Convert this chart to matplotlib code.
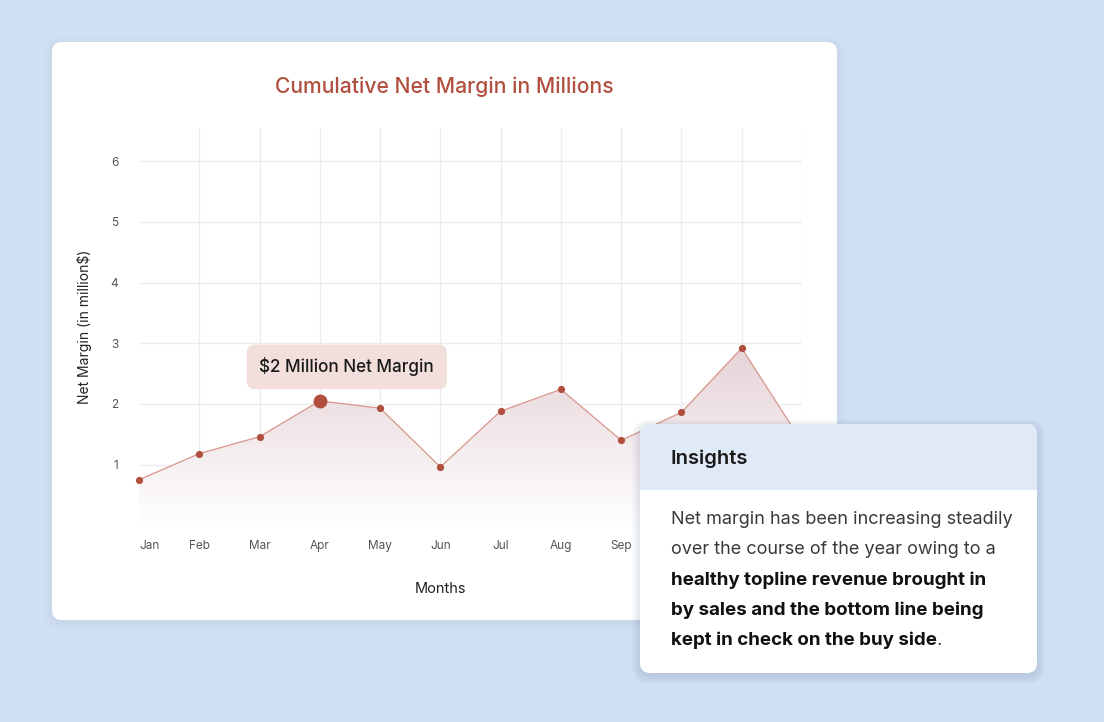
import numpy as np
import matplotlib
matplotlib.use('Agg')
from matplotlib import pyplot as plt
from matplotlib.patches import FancyBboxPatch, Rectangle
from matplotlib.colors import LinearSegmentedColormap

# data
months = ['Jan', 'Feb', 'Mar', 'Apr', 'May', 'Jun', 'Jul', 'Aug', 'Sep', 'Oct', 'Nov', 'Dec']
net_margin = [0.75, 1.18, 1.46, 2.05, 1.93, 0.96, 1.88, 2.24, 1.40, 1.86, 2.92, 1.37]
y_ticks = [1, 2, 3, 4, 5, 6]
highlight = 3  # Apr
callout_text = '$2 Million Net Margin'
title = 'Cumulative Net Margin in Millions'
insight_title = 'Insights'
insight_plain = ['Net margin has been increasing steadily',
                 'over the course of the year owing to a']
insight_bold = ['healthy topline revenue brought in',
                'by sales and the bottom line being',
                'kept in check on the buy side']

FONT = 'Inter'
BG = '#d1dff2'
ACCENT = '#b14f3e'
LINE = '#d8968b'
GRID = '#ededed'

W, H = 1104, 722
fig = plt.figure(figsize=(W / 100, H / 100), dpi=100)
fig.patch.set_facecolor(BG)

def pix_axes(z):
    a = fig.add_axes([0, 0, 1, 1], zorder=z)
    a.set_xlim(0, W)
    a.set_ylim(H, 0)
    a.axis('off')
    a.patch.set_alpha(0)
    return a

def card(a, x, y, w, h, color, r=10, shadow=0.015):
    for i in range(8):
        s = 2 + i * 2
        a.add_patch(FancyBboxPatch((x - s / 2, y - s / 2 + 3), w + s, h + s,
                                   boxstyle='round,pad=0,rounding_size=%d' % (r + s / 2),
                                   fc='#5a6f90', ec='none', alpha=shadow))
    a.add_patch(FancyBboxPatch((x, y), w, h, boxstyle='round,pad=0,rounding_size=%d' % r,
                               fc=color, ec='none'))

### background + main card
bg = pix_axes(0)
card(bg, 52, 42, 785, 578, 'white', shadow=0.008)
bg.text(444, 87, title, ha='center', va='center', fontsize=15.2, color=ACCENT,
        family=FONT, fontweight='medium')

### chart
x0, x1, y0, y1 = 139, 802, 128, 525.2
ax = fig.add_axes([x0 / W, (H - y1) / H, (x1 - x0) / W, (y1 - y0) / H], zorder=1)
ax.patch.set_alpha(0)
xs = np.arange(len(months))
xmin, xmax = 0.06, len(months) - 1
ymax = 6.55

for t in [0] + y_ticks:
    ax.axhline(t, color=GRID, lw=1, zorder=0)
for i in xs[1:]:
    ax.axvline(i, color=GRID, lw=1, zorder=0)

poly = ax.fill_between(xs, net_margin, 0, color='none', lw=0)
fade = LinearSegmentedColormap.from_list('fade', ['#ffffff', '#e5d2d6'])
grad = np.linspace(0, 1, 256).reshape(-1, 1)
im = ax.imshow(grad, extent=[xs[0], xmax, 0, 3.0], origin='lower', aspect='auto',
               cmap=fade, zorder=1, interpolation='bicubic')
im.set_clip_path(poly.get_paths()[0], transform=ax.transData)

ax.plot(xs, net_margin, color=LINE, lw=0.9, zorder=2, clip_on=False)
ax.plot(xs, net_margin, 'o', color=ACCENT, ms=5.2, mec='none', zorder=3, clip_on=False)
ax.plot(xs[highlight], net_margin[highlight], 'o', color=ACCENT, ms=10, mec='none', zorder=4)

ax.annotate(callout_text, xy=(xs[highlight], net_margin[highlight]), xytext=(27, 34),
            textcoords='offset pixels', ha='center', va='center', fontsize=12.3,
            family=FONT, fontweight='medium', color='#1a1a1a', zorder=5,
            bbox=dict(boxstyle='round,pad=0.75,rounding_size=0.5', fc='#f2dfdb', ec='none'))

ax.set_xlim(xmin, xmax)
ax.set_ylim(0, ymax)
ax.set_xticks(xs)
ax.set_xticklabels(months, fontsize=8.5, color='#555555', family=FONT)
for lab in ax.get_xticklabels()[9:]:
    lab.set_visible(False)  # covered by the insights card in the reference
ax.get_xticklabels()[0].set_ha('left')
ax.set_yticks(y_ticks)
ax.set_yticklabels([str(t) for t in y_ticks], fontsize=8.5, color='#555555', family=FONT)
ax.tick_params(length=0)
ax.tick_params(axis='x', pad=11)
ax.tick_params(axis='y', pad=15)
for sp in ax.spines.values():
    sp.set_visible(False)
ax.set_xlabel('Months', fontsize=10.5, family=FONT, color='#222222')
ax.xaxis.set_label_coords((441 - x0) / (x1 - x0), -(589 - y1) / (y1 - y0), transform=ax.transAxes)
ax.set_ylabel('Net Margin (in million$)', fontsize=10, family=FONT, color='#222222')
ax.yaxis.set_label_coords(-(x0 - 84) / (x1 - x0), 0.5, transform=ax.transAxes)
ax.xaxis.label.set_va('center')
ax.yaxis.label.set_va('center')

### insights card
ov = pix_axes(5)
cx, cy, cw, ch = 640, 424, 397, 249
card(ov, cx, cy, cw, ch, 'white', shadow=0.02)
ov.add_patch(FancyBboxPatch((cx, cy), cw, 66, boxstyle='round,pad=0,rounding_size=10',
                            fc='#e0eaf7', ec='none'))
ov.add_patch(Rectangle((cx, cy + 40), cw, 26, fc='#e0eaf7', ec='none'))
ov.text(671, 459, insight_title, ha='left', va='center', fontsize=14.5, fontweight='semibold',
        family=FONT, color='#1a1a1a')

line_y = 520
for s in insight_plain:
    ov.text(671, line_y, s, ha='left', va='center', fontsize=13, family=FONT,
            color='#3a3a3a')
    line_y += 30
last = None
for s in insight_bold:
    last = ov.text(671, line_y, s, ha='left', va='center', fontsize=13.5, fontweight='bold',
                   family=FONT, color='#111111')
    line_y += 30
ov.annotate('.', xy=(1, 0), xycoords=last, ha='left', va='bottom', fontsize=13.5,
            family=FONT, color='#3a3a3a')

fig.savefig('out.png', dpi=100, facecolor=fig.get_facecolor())
